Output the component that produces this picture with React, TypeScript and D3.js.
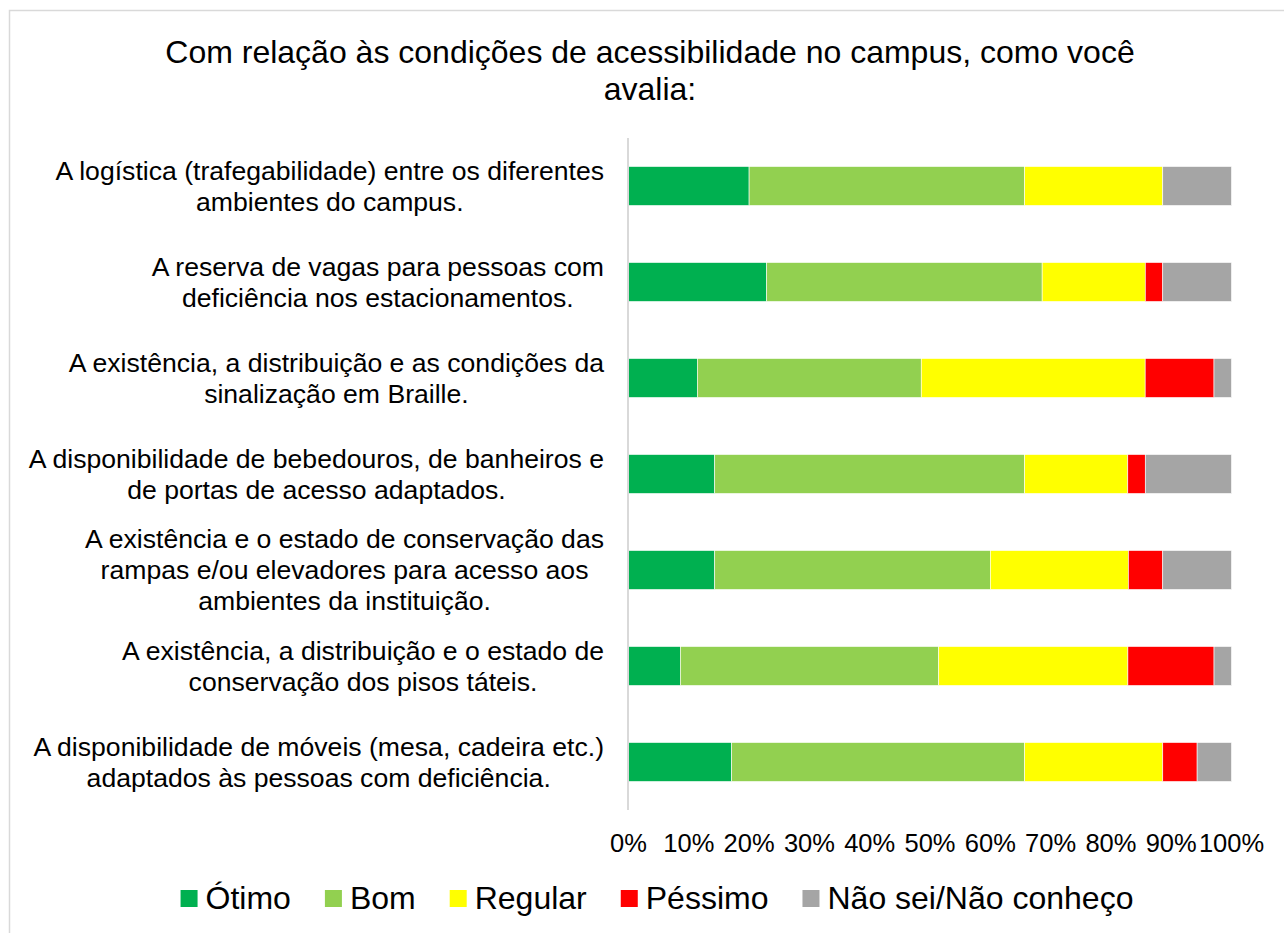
import React, { useEffect, useRef } from 'react';
import * as d3 from 'd3';

const title = ['Com relação às condições de acessibilidade no campus, como você', 'avalia:'];

const categories = [
    ['A logística (trafegabilidade) entre os diferentes', 'ambientes do campus.'],
    ['A reserva de vagas para pessoas com', 'deficiência nos estacionamentos.'],
    ['A existência, a distribuição e as condições da', 'sinalização em Braille.'],
    ['A disponibilidade de bebedouros, de banheiros e', 'de portas de acesso adaptados.'],
    ['A existência e o estado de conservação das', 'rampas e/ou elevadores para acesso aos', 'ambientes da instituição.'],
    ['A existência, a distribuição e o estado de', 'conservação dos pisos táteis.'],
    ['A disponibilidade de móveis (mesa, cadeira etc.)', 'adaptados às pessoas com deficiência.'],
];

const seriesNames = ['Ótimo', 'Bom', 'Regular', 'Péssimo', 'Não sei/Não conheço'];
const seriesColors = ['#00b050', '#92d050', '#ffff00', '#ff0000', '#a5a5a5'];

// percentages per category (top to bottom)
const otimo = [20.0, 22.9, 11.4, 14.3, 14.3, 8.6, 17.1];
const bom = [45.7, 45.7, 37.1, 51.4, 45.7, 42.9, 48.6];
const regular = [22.9, 17.1, 37.1, 17.1, 22.9, 31.4, 22.9];
const pessimo = [0, 2.9, 11.4, 2.9, 5.7, 14.3, 5.7];
const naoSei = [11.4, 11.4, 2.9, 14.3, 11.4, 2.9, 5.7];

const xTicks = [0, 0.1, 0.2, 0.3, 0.4, 0.5, 0.6, 0.7, 0.8, 0.9, 1];

const FONT = '"Liberation Sans", Arial, sans-serif';

const App = () => {
    const svgRef = useRef(null);

    useEffect(() => {
        const width = 1284;
        const height = 933;
        const svg = d3.select(svgRef.current);
        svg.selectAll('*').remove();
        svg.attr('width', width).attr('height', height);

        // chart frame
        svg.append('rect')
            .attr('x', 9.5).attr('y', 10.5)
            .attr('width', 1290).attr('height', 940)
            .attr('fill', '#fff')
            .attr('stroke', '#d9d9d9')
            .attr('stroke-width', 1.5);

        // title
        svg.append('g')
            .selectAll('text')
            .data(title)
            .enter()
            .append('text')
            .attr('x', 650)
            .attr('y', (d, i) => 63 + i * 37)
            .attr('text-anchor', 'middle')
            .style('font-family', FONT)
            .style('font-size', '32px')
            .style('fill', '#000')
            .text(d => d);

        const rows = categories.map((c, i) => ({
            key: i,
            'Ótimo': otimo[i],
            'Bom': bom[i],
            'Regular': regular[i],
            'Péssimo': pessimo[i],
            'Não sei/Não conheço': naoSei[i],
        }));

        const stack = d3.stack().keys(seriesNames).offset(d3.stackOffsetExpand);
        const layers = stack(rows);

        const x = d3.scaleLinear().domain([0, 1]).range([628.5, 1231.5]);
        const y = d3.scaleBand()
            .domain(categories.map((c, i) => i))
            .range([138, 810])
            .paddingInner(0.594)
            .paddingOuter(0.297);

        const color = d3.scaleOrdinal().domain(seriesNames).range(seriesColors);

        // bars
        svg.append('g')
            .selectAll('g')
            .data(layers)
            .enter()
            .append('g')
            .attr('fill', d => color(d.key))
            .selectAll('rect')
            .data(d => d)
            .enter()
            .append('rect')
            .attr('x', d => x(d[0]))
            .attr('y', d => y(d.data.key))
            .attr('width', d => x(d[1]) - x(d[0]))
            .attr('height', y.bandwidth())
            .attr('stroke', d => (d[1] - d[0] > 0 ? '#fff' : 'none'))
            .attr('stroke-width', 0.6);

        // vertical axis line
        svg.append('line')
            .attr('x1', 628).attr('x2', 628)
            .attr('y1', 138).attr('y2', 810)
            .attr('stroke', '#d9d9d9')
            .attr('stroke-width', 2);

        // x tick labels
        svg.append('g')
            .selectAll('text')
            .data(xTicks)
            .enter()
            .append('text')
            .attr('x', d => x(d))
            .attr('y', 852)
            .attr('text-anchor', 'middle')
            .style('font-family', FONT)
            .style('font-size', '25.5px')
            .style('fill', '#000')
            .text(d => d3.format('.0%')(d));

        // category labels, lines centred in a right-aligned block
        const labelG = svg.append('g');
        const lineH = 31;
        const labelSize = 26.6;
        categories.forEach((lines, i) => {
            const cy = y(i) + y.bandwidth() / 2;
            const texts = lines.map((line, j) =>
                labelG.append('text')
                    .attr('y', cy + (j - (lines.length - 1) / 2) * lineH + labelSize * 0.35)
                    .attr('text-anchor', 'middle')
                    .style('font-family', FONT)
                    .style('font-size', labelSize + 'px')
                    .style('fill', '#000')
                    .text(line)
            );
            const maxW = d3.max(texts, t => t.node().getComputedTextLength());
            texts.forEach(t => t.attr('x', 604 - maxW / 2));
        });

        // legend
        const legend = svg.append('g');
        const sq = 17;
        const gapText = 8;
        const gapItem = 34;
        const items = seriesNames.map(name => {
            const g = legend.append('g');
            g.append('rect')
                .attr('width', sq).attr('height', sq)
                .attr('y', 890)
                .attr('fill', color(name));
            const t = g.append('text')
                .attr('x', sq + gapText)
                .attr('y', 909)
                .style('font-family', FONT)
                .style('font-size', '32px')
                .style('fill', '#000')
                .text(name);
            return { g, w: sq + gapText + t.node().getComputedTextLength() };
        });
        const total = d3.sum(items, d => d.w) + gapItem * (items.length - 1);
        let cx = 657 - total / 2;
        items.forEach(it => {
            it.g.attr('transform', `translate(${cx},0)`);
            cx += it.w + gapItem;
        });
    }, []);

    return (
        <div style={{ position: 'absolute', left: 0, top: 0 }}>
            <svg ref={svgRef}></svg>
        </div>
    );
};

export default App;
